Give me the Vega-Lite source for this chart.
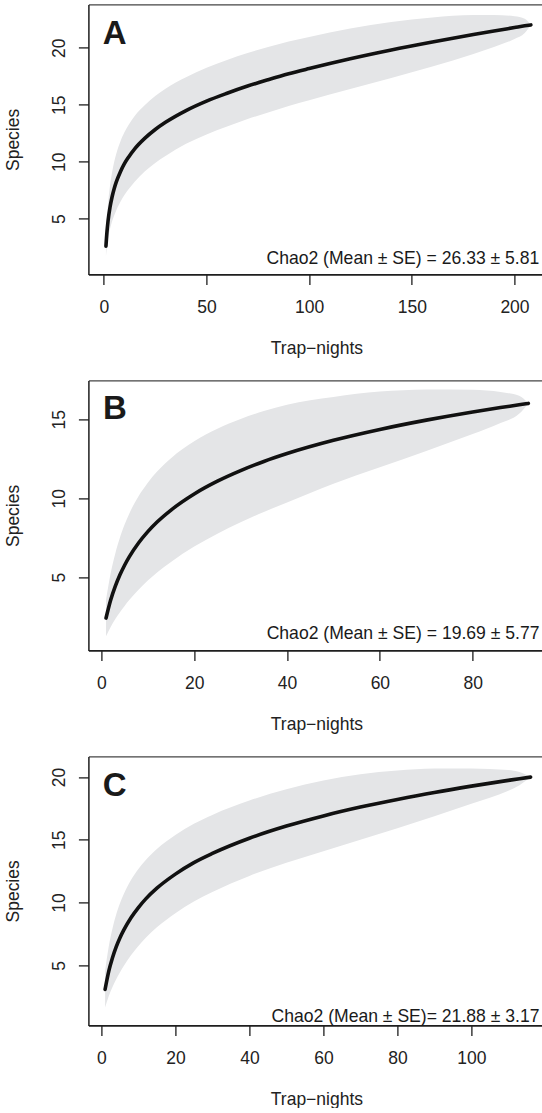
{
  "$schema": "https://vega.github.io/schema/vega-lite/v6.json",
  "background": "white",
  "padding": {"left": 4.4, "top": 4.4, "right": 0, "bottom": 0},
  "config": {
    "font": "Liberation Sans",
    "view": {"stroke": null},
    "axis": {
      "grid": false,
      "domainColor": "#1e1e1e",
      "domainWidth": 1.5,
      "tickColor": "#1e1e1e",
      "tickWidth": 1.3,
      "tickSize": 10,
      "labelFont": "Liberation Sans",
      "labelFontSize": 17.5,
      "labelColor": "#222222",
      "labelFlush": false,
      "labelOverlap": false,
      "titleFont": "Liberation Sans",
      "titleFontSize": 17.5,
      "titleFontWeight": "normal",
      "titleColor": "#222222"
    }
  },
  "datasets": {
    "A": [
      {"x": 1, "mean": 2.6, "lo": 1.7, "hi": 3.5},
      {"x": 1.5, "mean": 3.86, "lo": 2.61, "hi": 5.11},
      {"x": 2, "mean": 4.77, "lo": 3.27, "hi": 6.27},
      {"x": 3, "mean": 6.03, "lo": 4.13, "hi": 7.93},
      {"x": 4, "mean": 6.93, "lo": 4.78, "hi": 9.08},
      {"x": 5, "mean": 7.63, "lo": 5.28, "hi": 9.98},
      {"x": 6, "mean": 8.21, "lo": 5.73, "hi": 10.69},
      {"x": 8, "mean": 9.11, "lo": 6.46, "hi": 11.76},
      {"x": 10, "mean": 9.83, "lo": 7.08, "hi": 12.58},
      {"x": 12, "mean": 10.4, "lo": 7.58, "hi": 13.22},
      {"x": 15, "mean": 11.13, "lo": 8.25, "hi": 14.01},
      {"x": 20, "mean": 12.07, "lo": 9.17, "hi": 14.97},
      {"x": 25, "mean": 12.83, "lo": 9.9, "hi": 15.76},
      {"x": 30, "mean": 13.46, "lo": 10.51, "hi": 16.41},
      {"x": 40, "mean": 14.49, "lo": 11.57, "hi": 17.41},
      {"x": 50, "mean": 15.32, "lo": 12.4, "hi": 18.24},
      {"x": 60, "mean": 16.01, "lo": 13.09, "hi": 18.93},
      {"x": 70, "mean": 16.64, "lo": 13.74, "hi": 19.54},
      {"x": 80, "mean": 17.19, "lo": 14.32, "hi": 20.06},
      {"x": 90, "mean": 17.71, "lo": 14.88, "hi": 20.54},
      {"x": 100, "mean": 18.17, "lo": 15.39, "hi": 20.95},
      {"x": 120, "mean": 19.03, "lo": 16.37, "hi": 21.69},
      {"x": 140, "mean": 19.8, "lo": 17.34, "hi": 22.26},
      {"x": 160, "mean": 20.5, "lo": 18.35, "hi": 22.65},
      {"x": 180, "mean": 21.16, "lo": 19.46, "hi": 22.86},
      {"x": 190, "mean": 21.47, "lo": 20.07, "hi": 22.87},
      {"x": 200, "mean": 21.77, "lo": 20.77, "hi": 22.77},
      {"x": 205, "mean": 21.92, "lo": 21.3, "hi": 22.54},
      {"x": 208, "mean": 22.0, "lo": 22.0, "hi": 22.0}
    ],
    "B": [
      {"x": 1, "mean": 2.4, "lo": 1.25, "hi": 3.55},
      {"x": 2, "mean": 3.54, "lo": 1.84, "hi": 5.24},
      {"x": 3, "mean": 4.42, "lo": 2.34, "hi": 6.5},
      {"x": 4, "mean": 5.14, "lo": 2.77, "hi": 7.51},
      {"x": 5, "mean": 5.75, "lo": 3.17, "hi": 8.33},
      {"x": 6, "mean": 6.28, "lo": 3.54, "hi": 9.02},
      {"x": 8, "mean": 7.16, "lo": 4.2, "hi": 10.12},
      {"x": 10, "mean": 7.88, "lo": 4.78, "hi": 10.98},
      {"x": 12, "mean": 8.49, "lo": 5.29, "hi": 11.69},
      {"x": 15, "mean": 9.25, "lo": 5.96, "hi": 12.54},
      {"x": 20, "mean": 10.27, "lo": 6.93, "hi": 13.61},
      {"x": 25, "mean": 11.08, "lo": 7.75, "hi": 14.41},
      {"x": 30, "mean": 11.75, "lo": 8.47, "hi": 15.03},
      {"x": 35, "mean": 12.33, "lo": 9.13, "hi": 15.53},
      {"x": 40, "mean": 12.83, "lo": 9.73, "hi": 15.93},
      {"x": 50, "mean": 13.67, "lo": 10.92, "hi": 16.42},
      {"x": 60, "mean": 14.36, "lo": 11.96, "hi": 16.76},
      {"x": 70, "mean": 14.95, "lo": 13.0, "hi": 16.9},
      {"x": 80, "mean": 15.47, "lo": 14.07, "hi": 16.87},
      {"x": 86, "mean": 15.75, "lo": 14.77, "hi": 16.73},
      {"x": 90, "mean": 15.92, "lo": 15.35, "hi": 16.49},
      {"x": 92, "mean": 16.01, "lo": 16.01, "hi": 16.01}
    ],
    "C": [
      {"x": 1, "mean": 3.09, "lo": 1.64, "hi": 4.54},
      {"x": 2, "mean": 4.54, "lo": 2.56, "hi": 6.52},
      {"x": 3, "mean": 5.61, "lo": 3.28, "hi": 7.94},
      {"x": 4, "mean": 6.48, "lo": 3.9, "hi": 9.06},
      {"x": 5, "mean": 7.19, "lo": 4.44, "hi": 9.94},
      {"x": 6, "mean": 7.79, "lo": 4.93, "hi": 10.65},
      {"x": 8, "mean": 8.8, "lo": 5.8, "hi": 11.8},
      {"x": 10, "mean": 9.61, "lo": 6.54, "hi": 12.68},
      {"x": 12, "mean": 10.3, "lo": 7.2, "hi": 13.4},
      {"x": 15, "mean": 11.15, "lo": 8.03, "hi": 14.27},
      {"x": 20, "mean": 12.27, "lo": 9.15, "hi": 15.39},
      {"x": 25, "mean": 13.19, "lo": 10.09, "hi": 16.29},
      {"x": 30, "mean": 13.92, "lo": 10.85, "hi": 16.99},
      {"x": 40, "mean": 15.13, "lo": 12.13, "hi": 18.13},
      {"x": 50, "mean": 16.1, "lo": 13.17, "hi": 19.03},
      {"x": 60, "mean": 16.91, "lo": 14.09, "hi": 19.73},
      {"x": 70, "mean": 17.61, "lo": 15.0, "hi": 20.22},
      {"x": 80, "mean": 18.22, "lo": 15.92, "hi": 20.52},
      {"x": 90, "mean": 18.78, "lo": 16.88, "hi": 20.68},
      {"x": 100, "mean": 19.28, "lo": 17.87, "hi": 20.69},
      {"x": 110, "mean": 19.74, "lo": 18.92, "hi": 20.56},
      {"x": 113, "mean": 19.875, "lo": 19.35, "hi": 20.4},
      {"x": 116, "mean": 20.0, "lo": 20.0, "hi": 20.0}
    ]
  },
  "spacing": 106,
  "bounds": "flush",
  "vconcat": [
    {
      "width": 454,
      "height": 270,
      "resolve": {"axis": {"x": "independent"}},
      "layer": [
        {
          "data": {"name": "A"},
          "mark": {"type": "area", "interpolate": "monotone", "color": "#e4e5e7"},
          "encoding": {
            "x": {"field": "x", "type": "quantitative", "scale": {"domain": [-7.55, 213.6], "nice": false, "zero": false},
              "axis": {"orient": "bottom", "values": [0, 50, 100, 150, 200], "labelBaseline": "alphabetic", "labelPadding": 28.2, "title": "Trap−nights", "titleBaseline": "alphabetic", "titleX": 228, "titleY": 79.3, "domainWidth": 1.8}},
            "y": {"field": "lo", "type": "quantitative", "scale": {"domain": [0.12, 23.8], "nice": false, "zero": false},
              "axis": {"values": [5, 10, 15, 20], "labelAngle": -90, "labelAlign": "center", "labelBaseline": "alphabetic", "labelPadding": 14, "title": "Species", "titleAngle": -90, "titleAlign": "center", "titleBaseline": "alphabetic", "titleX": -70, "titleY": 135}},
            "y2": {"field": "hi"}
          }
        },
        {
          "data": {"name": "A"},
          "mark": {"type": "line", "interpolate": "monotone", "color": "#111111", "strokeWidth": 3.6, "strokeCap": "round"},
          "encoding": {
            "x": {"field": "x", "type": "quantitative", "scale": {"domain": [-7.55, 213.6], "nice": false, "zero": false},
              "axis": {"orient": "top", "labels": false, "ticks": false, "title": null, "domainColor": "#444444", "domainWidth": 1.3}},
            "y": {"field": "mean", "type": "quantitative", "scale": {"domain": [0.12, 23.8], "nice": false, "zero": false}}
          }
        },
        {
          "data": {"values": [{"x": -0.5, "y": 20.29, "label": "A"}]},
          "mark": {"type": "text", "align": "left", "baseline": "alphabetic", "fontSize": 33, "fontWeight": "bold", "color": "#1a1a1a"},
          "encoding": {
            "x": {"field": "x", "type": "quantitative", "scale": {"domain": [-7.55, 213.6], "nice": false, "zero": false}, "axis": null},
            "y": {"field": "y", "type": "quantitative", "scale": {"domain": [0.12, 23.8], "nice": false, "zero": false}},
            "text": {"field": "label"}
          }
        },
        {
          "data": {"values": [{"x": 212.1, "y": 1.05, "label": "Chao2 (Mean ± SE) = 26.33 ± 5.81"}]},
          "mark": {"type": "text", "align": "right", "baseline": "alphabetic", "fontSize": 17.6, "color": "#1a1a1a"},
          "encoding": {
            "x": {"field": "x", "type": "quantitative", "scale": {"domain": [-7.55, 213.6], "nice": false, "zero": false}, "axis": null},
            "y": {"field": "y", "type": "quantitative", "scale": {"domain": [0.12, 23.8], "nice": false, "zero": false}},
            "text": {"field": "label"}
          }
        }
      ]
    },
    {
      "width": 454,
      "height": 270,
      "resolve": {"axis": {"x": "independent"}},
      "layer": [
        {
          "data": {"name": "B"},
          "mark": {"type": "area", "interpolate": "monotone", "color": "#e4e5e7"},
          "encoding": {
            "x": {"field": "x", "type": "quantitative", "scale": {"domain": [-2.8, 95.02], "nice": false, "zero": false},
              "axis": {"orient": "bottom", "values": [0, 20, 40, 60, 80], "labelBaseline": "alphabetic", "labelPadding": 28.2, "title": "Trap−nights", "titleBaseline": "alphabetic", "titleX": 228, "titleY": 79.3, "domainWidth": 1.8}},
            "y": {"field": "lo", "type": "quantitative", "scale": {"domain": [0.35, 17.47], "nice": false, "zero": false},
              "axis": {"values": [5, 10, 15], "labelAngle": -90, "labelAlign": "center", "labelBaseline": "alphabetic", "labelPadding": 14, "title": "Species", "titleAngle": -90, "titleAlign": "center", "titleBaseline": "alphabetic", "titleX": -70, "titleY": 135}},
            "y2": {"field": "hi"}
          }
        },
        {
          "data": {"name": "B"},
          "mark": {"type": "line", "interpolate": "monotone", "color": "#111111", "strokeWidth": 3.6, "strokeCap": "round"},
          "encoding": {
            "x": {"field": "x", "type": "quantitative", "scale": {"domain": [-2.8, 95.02], "nice": false, "zero": false},
              "axis": {"orient": "top", "labels": false, "ticks": false, "title": null, "domainColor": "#444444", "domainWidth": 1.3}},
            "y": {"field": "mean", "type": "quantitative", "scale": {"domain": [0.35, 17.47], "nice": false, "zero": false}}
          }
        },
        {
          "data": {"values": [{"x": 0.32, "y": 15.0, "label": "B"}]},
          "mark": {"type": "text", "align": "left", "baseline": "alphabetic", "fontSize": 33, "fontWeight": "bold", "color": "#1a1a1a"},
          "encoding": {
            "x": {"field": "x", "type": "quantitative", "scale": {"domain": [-2.8, 95.02], "nice": false, "zero": false}, "axis": null},
            "y": {"field": "y", "type": "quantitative", "scale": {"domain": [0.35, 17.47], "nice": false, "zero": false}},
            "text": {"field": "label"}
          }
        },
        {
          "data": {"values": [{"x": 94.4, "y": 1.05, "label": "Chao2 (Mean ± SE) = 19.69 ± 5.77"}]},
          "mark": {"type": "text", "align": "right", "baseline": "alphabetic", "fontSize": 17.6, "color": "#1a1a1a"},
          "encoding": {
            "x": {"field": "x", "type": "quantitative", "scale": {"domain": [-2.8, 95.02], "nice": false, "zero": false}, "axis": null},
            "y": {"field": "y", "type": "quantitative", "scale": {"domain": [0.35, 17.47], "nice": false, "zero": false}},
            "text": {"field": "label"}
          }
        }
      ]
    },
    {
      "width": 454,
      "height": 269,
      "resolve": {"axis": {"x": "independent"}},
      "layer": [
        {
          "data": {"name": "C"},
          "mark": {"type": "area", "interpolate": "monotone", "color": "#e4e5e7"},
          "encoding": {
            "x": {"field": "x", "type": "quantitative", "scale": {"domain": [-3.51, 119.19], "nice": false, "zero": false},
              "axis": {"orient": "bottom", "values": [0, 20, 40, 60, 80, 100], "labelBaseline": "alphabetic", "labelPadding": 28.2, "title": "Trap−nights", "titleBaseline": "alphabetic", "titleX": 228, "titleY": 79.3, "domainWidth": 1.8}},
            "y": {"field": "lo", "type": "quantitative", "scale": {"domain": [0.22, 21.65], "nice": false, "zero": false},
              "axis": {"values": [5, 10, 15, 20], "labelAngle": -90, "labelAlign": "center", "labelBaseline": "alphabetic", "labelPadding": 14, "title": "Species", "titleAngle": -90, "titleAlign": "center", "titleBaseline": "alphabetic", "titleX": -70, "titleY": 134.5}},
            "y2": {"field": "hi"}
          }
        },
        {
          "data": {"name": "C"},
          "mark": {"type": "line", "interpolate": "monotone", "color": "#111111", "strokeWidth": 3.6, "strokeCap": "round"},
          "encoding": {
            "x": {"field": "x", "type": "quantitative", "scale": {"domain": [-3.51, 119.19], "nice": false, "zero": false},
              "axis": {"orient": "top", "labels": false, "ticks": false, "title": null, "domainColor": "#444444", "domainWidth": 1.3}},
            "y": {"field": "mean", "type": "quantitative", "scale": {"domain": [0.22, 21.65], "nice": false, "zero": false}}
          }
        },
        {
          "data": {"values": [{"x": 0.4, "y": 18.5, "label": "C"}]},
          "mark": {"type": "text", "align": "left", "baseline": "alphabetic", "fontSize": 33, "fontWeight": "bold", "color": "#1a1a1a"},
          "encoding": {
            "x": {"field": "x", "type": "quantitative", "scale": {"domain": [-3.51, 119.19], "nice": false, "zero": false}, "axis": null},
            "y": {"field": "y", "type": "quantitative", "scale": {"domain": [0.22, 21.65], "nice": false, "zero": false}},
            "text": {"field": "label"}
          }
        },
        {
          "data": {"values": [{"x": 118.4, "y": 0.5, "label": "Chao2 (Mean ± SE)= 21.88 ± 3.17"}]},
          "mark": {"type": "text", "align": "right", "baseline": "alphabetic", "fontSize": 17.6, "color": "#1a1a1a"},
          "encoding": {
            "x": {"field": "x", "type": "quantitative", "scale": {"domain": [-3.51, 119.19], "nice": false, "zero": false}, "axis": null},
            "y": {"field": "y", "type": "quantitative", "scale": {"domain": [0.22, 21.65], "nice": false, "zero": false}},
            "text": {"field": "label"}
          }
        }
      ]
    }
  ]
}
